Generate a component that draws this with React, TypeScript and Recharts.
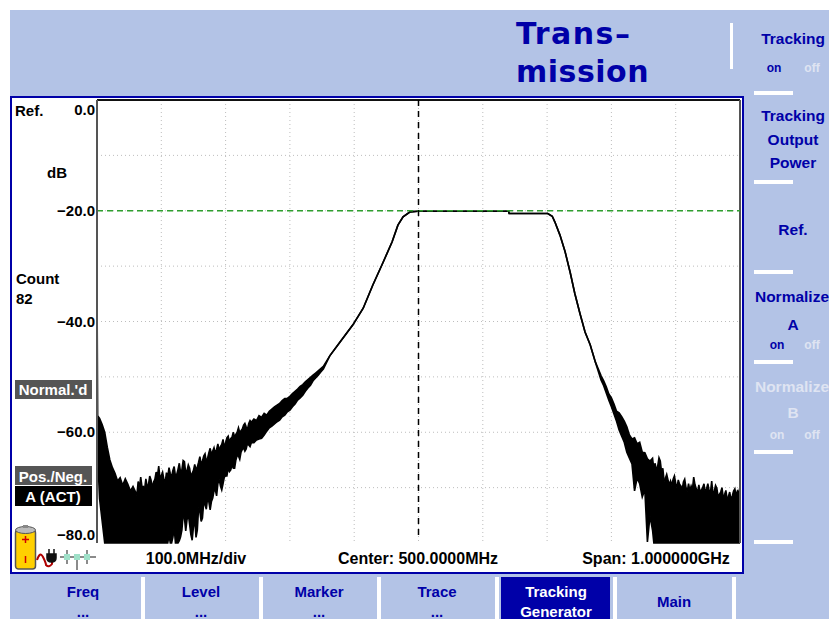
import React from 'react';
import { Area, CartesianGrid, ComposedChart, ReferenceLine, XAxis, YAxis } from 'recharts';

// left noise skirt, MHz / dB
const leftFreq = [
  0, 1, 4, 8, 12, 16, 20, 24, 28, 32, 36, 40, 44, 48, 52, 56, 60, 64, 68, 72, 76, 80, 84, 88, 92, 96, 100, 104, 108,
  112, 116, 120, 124, 128, 132, 136, 140, 144, 148, 152, 156, 160, 164, 168, 172, 176, 180, 184, 188, 192, 196, 200,
  204, 208, 212, 216, 220, 224, 228, 232, 236, 240, 244, 248, 252, 256, 260, 264, 268, 272, 276, 280, 284, 288, 292,
  296, 300, 304, 308, 312, 316, 320, 324, 328, 332, 336, 340, 344, 348, 352,
];
const leftUpper = [
  -33, -57, -57.5, -58.6, -60, -62.7, -65, -66.4, -67.4, -68.8, -68.2, -69.6, -68.4, -69.4, -70.6, -69.8, -70.8, -68.9,
  -68.1, -69.8, -68.4, -69.5, -68.6, -69, -67.2, -66.1, -67.8, -68.5, -67.3, -66.4, -68, -66.2, -67.6, -65.6, -66.8,
  -65.3, -66.9, -66.5, -67.4, -65.8, -66.3, -64.4, -65.2, -63.9, -64.7, -62.9, -63.4, -63.8, -62.1, -62.6, -61.3,
  -61.9, -60.7, -61.1, -60, -60.4, -59.2, -59.7, -58.7, -59, -58.4, -58.2, -57.6, -57.9, -57, -57.3, -56.6, -56.9,
  -56.2, -55.8, -55.4, -55.1, -54.8, -54.3, -53.9, -53.9, -53.5, -53, -52.6, -52.2, -51.7, -51.4, -50.9, -50.5, -50.1,
  -49.7, -49.3, -48.9, -48.5, -48.1,
];
const leftLower = [
  -62, -64, -72, -76, -80, -80, -80, -80, -80, -80, -80, -80, -80, -80, -80, -80, -80, -80, -80, -80, -80, -80, -80,
  -80, -80, -80, -80, -80, -80, -78.6, -80, -77.3, -80, -79.6, -77.7, -75.5, -75.8, -76.6, -79.5, -75.8, -77.7, -74.4,
  -75.5, -73.1, -71.9, -74, -71.9, -70.4, -69.3, -69.7, -69.3, -67.9, -66.5, -66.8, -66.5, -65, -64.3, -63.6, -62.8,
  -63, -62.3, -61.9, -61.9, -61.4, -61.2, -61.1, -60.5, -59.8, -59.2, -58.9, -58.5, -58.1, -57.8, -57.2, -56.9, -56.3,
  -56, -55.4, -54.9, -54.2, -53.8, -53.3, -52.6, -52, -51.5, -50.7, -50.2, -49.7, -49.1, -48.6,
];

// extra readings between the ones above, the skirt is spiky at this scale
const leftSpikeFreq = [
  62, 66, 70, 74, 78, 82, 86, 90, 94, 98, 102, 106, 110, 114, 118, 122, 126, 130, 134, 138, 142, 146, 150, 154, 158,
  162, 166, 170, 174, 178, 182, 186, 190, 194, 198, 202, 206, 210, 214, 218, 222, 226, 230, 234, 238,
];
const leftSpikeUpper = [
  -71.4, -70, -69.9, -70.3, -69.8, -67.9, -70.1, -68.5, -67.9, -68.4, -67.2, -69.2, -68.1, -67.5, -66.9, -67.9, -66.7,
  -67.3, -65.1, -67.4, -65.9, -68, -66.9, -66.8, -65.4, -65.8, -64.3, -65.3, -63.7, -64.1, -62.8, -63.1, -63.4, -62.2,
  -62.8, -61, -61.9, -60.9, -60.9, -60, -60.1, -59.4, -58.4, -59.5, -57.9,
];
const leftSpikeLower = [
  -80, -80, -80, -80, -80, -80, -80, -80, -80, -80, -80, -80, -80, -80, -79, -80, -80, -78.9, -74.9, -77.8, -74.8,
  -78.5, -77.1, -79, -73.6, -76.1, -72.6, -73.9, -72.6, -72.5, -70.6, -71.5, -68.5, -70.4, -68.1, -67.9, -67.1, -65.9,
  -66.5, -64.2, -64.9, -63.1, -63.4, -62, -62.6,
];

// passband, the trace is a clean single line here
const midFreq = [
  362, 378, 398, 414, 429, 445, 459, 468, 476, 487, 499, 600, 640, 641, 701, 708, 712, 720, 728, 736, 743, 751, 759,
  767, 775,
];
const midLevel = [
  -46.2, -43.7, -40.6, -37.6, -33.4, -29.3, -25.6, -22.6, -21.1, -20.2, -20.1, -20.1, -20.1, -20.5, -20.5, -21, -22,
  -24.4, -27.4, -31.2, -34.9, -38.5, -41.9, -44.2, -47.3,
];

// right noise skirt
const rightFreq = [
  784, 788, 792, 796, 800, 804, 808, 812, 816, 820, 824, 828, 832, 836, 840, 844, 848, 852, 856, 860, 864, 868, 872,
  876, 880, 884, 888, 892, 896, 900, 904, 908, 912, 916, 920, 924, 928, 932, 936, 940, 944, 948, 952, 956, 960, 964,
  968, 972, 976, 980, 984, 988, 992, 996, 1000,
];
const rightUpper = [
  -49.8, -50.7, -51.8, -53.1, -53.8, -54.9, -56.2, -56.5, -57.2, -58, -59, -60.5, -61.2, -61, -62.1, -61.8, -63.6,
  -63.7, -64.8, -65.2, -64.7, -65.6, -66.1, -65.2, -66.5, -68.3, -68.6, -68.8, -68.5, -69.2, -68.6, -69.7, -69, -70,
  -69.3, -69.7, -68.1, -70.2, -69.5, -70.4, -69.3, -70.2, -70.6, -68.8, -70.6, -70.1, -71.2, -70, -71.3, -72.1, -70.8,
  -71.5, -70.2, -70.6, -69.9,
];
const rightLower = [
  -50.6, -51.6, -52.9, -54.2, -55.4, -56.7, -58, -59.6, -60.7, -61.8, -63.6, -64.7, -65.7, -70.6, -68.3, -69.3, -71.7,
  -70.4, -79.8, -75.1, -77.7, -80, -80, -80, -80, -80, -80, -80, -80, -80, -80, -80, -80, -80, -80, -80, -80, -80, -80,
  -80, -80, -80, -80, -80, -80, -80, -80, -80, -80, -80, -80, -80, -80, -80, -80,
];
const rightSpikeFreq = [
  866, 870, 874, 878, 882, 886, 890, 894, 898, 902, 906, 910, 914, 918, 922, 926, 930, 934, 938, 942, 946, 950, 954,
  958, 962, 966, 970, 974, 978, 982, 986, 990, 994, 998,
];
const rightSpikeUpper = [
  -66.6, -67, -64.6, -67.2, -68.9, -67.6, -69.5, -69.6, -67.9, -70, -69.4, -70.4, -68.5, -70.7, -70.6, -70.4, -69.5,
  -71, -70.9, -70, -71, -69.3, -70.9, -71.3, -69.6, -71.7, -70.8, -71.9, -70.5, -71.6, -72.2, -70.6, -71.5, -70.9,
];

const freqSpan = 1000;
const freqGrid = [100, 200, 300, 400, 500, 600, 700, 800, 900];
const levelGrid = [-10, -20, -30, -40, -50, -60, -70];
const levelTicks = [0, -20, -40, -60, -80];

const bottomKeys = ['Freq', 'Level', 'Marker', 'Trace'];

const traceData = [
  ...leftFreq.map((freq, i) => ({ freq, upper: leftUpper[i], lower: leftLower[i] })),
  ...leftSpikeFreq.map((freq, i) => ({ freq, upper: leftSpikeUpper[i], lower: leftSpikeLower[i] })),
  ...midFreq.map((freq, i) => ({ freq, upper: midLevel[i], lower: midLevel[i] })),
  ...rightFreq.map((freq, i) => ({ freq, upper: rightUpper[i], lower: rightLower[i] })),
  ...rightSpikeFreq.map((freq, i) => ({ freq, upper: rightSpikeUpper[i], lower: -80 })),
].sort((a, b) => a.freq - b.freq);

const BLUE = '#0000a8';
const PANEL = '#b3c3e6';
const SANS = '"Liberation Sans", Arial, sans-serif';

const Label = ({ x, y, text, color = '#000', size = 15, align = 'center' }: any) => (
  <div
    style={{
      position: 'absolute',
      left: x,
      top: y,
      transform: align === 'center' ? 'translate(-50%, -50%)' : 'translateY(-50%)',
      color,
      font: `bold ${size}px ${SANS}`,
      whiteSpace: 'nowrap',
    }}
  >
    {text}
  </div>
);

const Box = ({ x, y, w, h, color }: any) => (
  <div style={{ position: 'absolute', left: x, top: y, width: w, height: h, background: color }} />
);

const LevelTick = ({ x, y, payload }: any) => {
  const shift = payload.value === 0 ? 10 : payload.value === -80 ? -8 : 0;
  return (
    <text x={x + 6} y={y + shift + 5} textAnchor="end" fontFamily={SANS} fontWeight="bold" fontSize={15} fill="#000">
      {payload.value === 0 ? '0.0' : `\u2212${Math.abs(payload.value)}.0`}
    </text>
  );
};

const StatusIcons = () => (
  <svg style={{ position: 'absolute', left: 12, top: 524 }} width={90} height={50}>
    <rect x={3.5} y={6} width={20} height={39} rx={3} fill="#ffd000" stroke="#555" strokeWidth={1.5} />
    <ellipse cx={13.5} cy={6} rx={10} ry={3.5} fill="#bbb" stroke="#555" />
    <rect x={11} y={1} width={5} height={3} fill="#888" />
    <path d="M13.5 12v7M10 15.5h7M13.5 32v7" stroke="#d00000" strokeWidth={1.5} />
    <path d="M25 36q3-9 6-3t3 8q3 3 6-1v-6" fill="none" stroke="#b00000" strokeWidth={2} />
    <path d="M35 30h9v4q0 4-4.5 4t-4.5-4zM37 25v5M42 25v5" fill="#111" stroke="#111" strokeWidth={1.5} />
    <path d="M48 33h36M55 26v14M65 30v16M75 26v14" stroke="#666" strokeWidth={1.5} />
    <rect x={52} y={30} width={6} height={6} fill="#9fe0c8" />
    <rect x={62} y={30} width={6} height={6} fill="#9fe0c8" />
    <rect x={72} y={30} width={6} height={6} fill="#9fe0c8" />
  </svg>
);

export default function App() {
  return (
    <div style={{ position: 'absolute', left: 0, top: 0, width: 829, height: 619, overflow: 'hidden', background: '#fff' }}>
      <Box x={10} y={10} w={819} h={609} color={PANEL} />
      <Box x={10} y={96} w={734} h={478} color={BLUE} />
      <Box x={12} y={98} w={730} h={474} color="#fff" />

      <div style={{ position: 'absolute', left: 516, top: 33, transform: 'translateY(-50%)', color: BLUE, font: 'bold 30px "DejaVu Sans"', letterSpacing: 1.5 }}>Trans–</div>
      <div style={{ position: 'absolute', left: 516, top: 71, transform: 'translateY(-50%)', color: BLUE, font: 'bold 30px "DejaVu Sans"', letterSpacing: 0.5 }}>mission</div>
      <Box x={730} y={23} w={3} h={46} color="#fff" />

      {[91, 180, 270, 360, 450, 540].map((y) => (
        <Box key={y} x={754} y={y} w={39} h={4} color="#fff" />
      ))}
      <Label x={793} y={39} text="Tracking" color={BLUE} size={15.5} />
      <Label x={774} y={68} text="on" color={BLUE} size={12} />
      <Label x={812} y={68} text="off" color="#dfe4f2" size={12} />
      <Label x={793} y={116} text="Tracking" color={BLUE} size={15.5} />
      <Label x={793} y={140} text="Output" color={BLUE} size={15.5} />
      <Label x={793} y={163} text="Power" color={BLUE} size={15.5} />
      <Label x={793} y={230} text="Ref." color={BLUE} size={15.5} />
      <Label x={792} y={297} text="Normalize" color={BLUE} size={15.5} />
      <Label x={793} y={325} text="A" color={BLUE} size={15.5} />
      <Label x={777} y={345} text="on" color={BLUE} size={12} />
      <Label x={812} y={345} text="off" color="#dfe4f2" size={12} />
      <Label x={792} y={387} text="Normalize" color="#dfe4f2" size={15.5} />
      <Label x={793} y={413} text="B" color="#dfe4f2" size={15.5} />
      <Label x={777} y={435} text="on" color="#dfe4f2" size={12} />
      <Label x={812} y={435} text="off" color="#dfe4f2" size={12} />

      {[141, 259, 377, 495, 613, 732].map((x) => (
        <Box key={x} x={x} y={577} w={3.5} h={42} color="#fff" />
      ))}
      <Box x={501} y={577} w={109} h={42} color={BLUE} />
      {bottomKeys.map((key, i) => (
        <React.Fragment key={key}>
          <Label x={83 + i * 118} y={591} text={key} color={BLUE} />
          <Label x={83 + i * 118} y={611} text="..." color={BLUE} />
        </React.Fragment>
      ))}
      <Label x={556} y={591} text="Tracking" color="#fff" />
      <Label x={556} y={611} text="Generator" color="#fff" />
      <Label x={674} y={601} text="Main" color={BLUE} />

      <ComposedChart
        width={829}
        height={619}
        data={traceData}
        margin={{ top: 100, right: 89, bottom: 76, left: 12 }}
        style={{ position: 'absolute', left: 0, top: 0 }}
      >
        <CartesianGrid
          stroke="#bdbdbd"
          strokeDasharray="1 3"
          horizontalValues={levelGrid}
          verticalCoordinatesGenerator={({ offset }: any) =>
            freqGrid.map((freq) => offset.left + (freq / freqSpan) * offset.width)
          }
        />
        <XAxis
          dataKey="freq"
          type="number"
          domain={[0, freqSpan]}
          tick={false}
          tickLine={false}
          height={0}
          axisLine={{ stroke: '#555', strokeWidth: 2 }}
        />
        <YAxis
          type="number"
          domain={[-80, 0]}
          ticks={levelTicks}
          width={85}
          tickLine={false}
          tick={<LevelTick />}
          interval={0}
          axisLine={{ stroke: '#555', strokeWidth: 2 }}
        />
        <ReferenceLine y={0} stroke="#111" strokeWidth={2} />
        <ReferenceLine x={freqSpan} stroke="#555" strokeWidth={2} />
        <Area
          dataKey={(d: any) => [d.lower, d.upper]}
          type="linear"
          stroke="#000"
          strokeWidth={1.6}
          fill="#000"
          fillOpacity={1}
          dot={false}
          activeDot={false}
          isAnimationActive={false}
        />
        <ReferenceLine y={-20} stroke="#2f9f2f" strokeWidth={1.5} strokeDasharray="6 4" />
        <ReferenceLine
          segment={[{ x: 500, y: 0 }, { x: 500, y: -79 }]}
          stroke="#000"
          strokeWidth={1.5}
          strokeDasharray="6 5"
        />
      </ComposedChart>

      <Label x={15} y={110} text="Ref." align="left" />
      <Label x={57} y={172} text="dB" />
      <Label x={16} y={278} text="Count" align="left" />
      <Label x={16} y={298} text="82" align="left" />
      <Box x={15} y={380} w={77} h={19} color="#555" />
      <Label x={53} y={389} text="Normal.'d" color="#fff" />
      <Box x={15} y={466} w={77} h={19} color="#555" />
      <Label x={53} y={476} text="Pos./Neg." color="#fff" />
      <Box x={15} y={486} w={77} h={20} color="#000" />
      <Label x={53} y={496} text="A (ACT)" color="#fff" />
      <StatusIcons />
      <Label x={196} y={559} text="100.0MHz/div" size={16} />
      <Label x={418} y={559} text="Center: 500.0000MHz" size={16} />
      <Label x={656} y={559} text="Span: 1.000000GHz" size={16} />
    </div>
  );
}
